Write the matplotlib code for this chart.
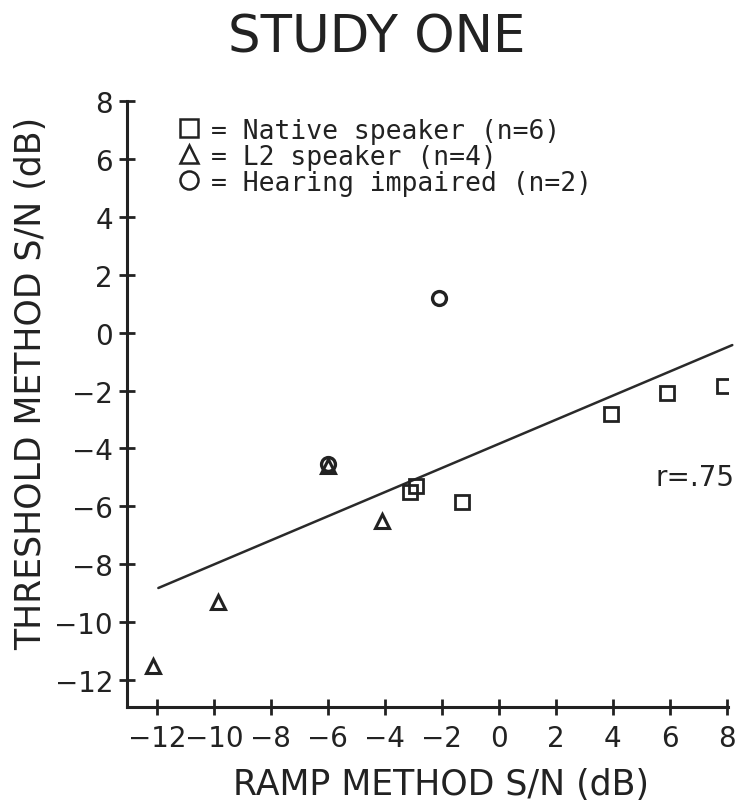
import numpy as np
import matplotlib
matplotlib.use("Agg")
import matplotlib.pyplot as plt
from matplotlib.lines import Line2D

# 数据：近似值
native_x = [-3.1, -2.9, -1.3, 3.95, 5.9, 7.9]
native_y = [-5.5, -5.3, -5.85, -2.8, -2.1, -1.85]
l2_x = [-12.15, -9.85, -4.1, -6.0]
l2_y = [-11.5, -9.3, -6.5, -4.6]
impaired_x = [-2.1, -6.0]
impaired_y = [1.2, -4.55]

# 回归线两端
fit_x = [-11.95, 8.2]
fit_y = [-8.82, -0.43]

x_ticks = list(range(-12, 9, 2))
y_ticks = list(range(-12, 9, 2))

ink = "#222222"
plt.rcParams['font.family'] = ['DejaVu Sans']

fig = plt.figure(figsize=(7.41, 8.03), dpi=100)
ax_1 = fig.add_axes([0.1714, 0.1183, 0.8111, 0.7547])

ax_1.set_xlim(-13.05, 8.05)
ax_1.set_ylim(-12.93, 8.0)

ax_1.plot(fit_x, fit_y, color="#2a2a2a", lw=1.8, solid_capstyle="round", clip_on=False)

mk = dict(linestyle="none", markerfacecolor="none", markeredgecolor=ink)
ax_1.plot(native_x, native_y, marker="s", markersize=10, markeredgewidth=2.0, **mk)
ax_1.plot(l2_x, l2_y, marker="^", markersize=10, markeredgewidth=2.2, **mk)
ax_1.plot(impaired_x, impaired_y, marker="o", markersize=10, markeredgewidth=2.4, **mk)

for s in ["top", "right"]:
    ax_1.spines[s].set_visible(False)
for s in ["left", "bottom"]:
    ax_1.spines[s].set_linewidth(2.2)
    ax_1.spines[s].set_color(ink)

ax_1.set_xticks(x_ticks)
ax_1.set_yticks(y_ticks)
ax_1.set_xticklabels([str(v).replace("-", "\u2212") for v in x_ticks])
ax_1.set_yticklabels([str(v).replace("-", "\u2212") for v in y_ticks])
ax_1.tick_params(axis="both", direction="inout", length=12, width=2.0,
                 colors=ink, labelsize=20, pad=4)
ax_1.tick_params(axis="x", pad=6)

ax_1.set_xlabel("RAMP METHOD S/N (dB)", fontsize=25, color=ink)
ax_1.xaxis.set_label_coords(0.522, -0.099)
ax_1.set_ylabel("THRESHOLD METHOD S/N (dB)", fontsize=25, color=ink)
ax_1.yaxis.set_label_coords(-0.132, 0.535)
fig.text(0.508, 0.952, "STUDY ONE", fontsize=37, ha="center", va="center",
         color=ink)

ax_1.text(8.28, -5.0, "r=.75", fontsize=20, ha="right", va="center",
          color=ink, clip_on=False)

handles = [
    Line2D([], [], marker="s", markersize=13, markeredgewidth=1.8, **mk),
    Line2D([], [], marker="^", markersize=13, markeredgewidth=1.8, **mk),
    Line2D([], [], marker="o", markersize=13, markeredgewidth=1.8, **mk),
]
labels = ["= Native speaker (n=6)", "= L2 speaker (n=4)", "= Hearing impaired (n=2)"]
leg = ax_1.legend(handles, labels, loc="upper left", bbox_to_anchor=(0.07, 0.99),
                  frameon=False, handlelength=0.7, handletextpad=0.5,
                  labelspacing=0.0, borderaxespad=0,
                  prop={"family": "DejaVu Sans Mono", "size": 19})
for t in leg.get_texts():
    t.set_color(ink)

plt.savefig("out.png", dpi=100)
